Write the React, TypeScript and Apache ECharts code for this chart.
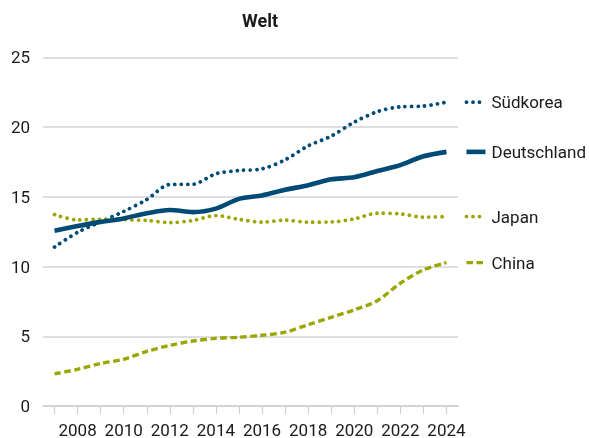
import React, { useEffect, useRef } from "react";
import * as echarts from "echarts";

const years = ["2007","2008","2009","2010","2011","2012","2013","2014","2015","2016","2017","2018","2019","2020","2021","2022","2023","2024"];
const suedkorea = [11.4,12.45,13.2,13.95,14.8,15.88,15.9,16.65,16.88,17.0,17.65,18.65,19.35,20.35,21.1,21.45,21.5,21.78];
const deutschland = [12.57,12.9,13.2,13.45,13.82,14.05,13.9,14.15,14.85,15.1,15.5,15.83,16.25,16.4,16.85,17.27,17.9,18.22];
const japan = [13.72,13.34,13.38,13.36,13.3,13.15,13.3,13.65,13.38,13.18,13.32,13.18,13.2,13.41,13.82,13.77,13.54,13.58];
const china = [2.3,2.63,3.05,3.35,3.92,4.35,4.66,4.85,4.93,5.07,5.29,5.83,6.36,6.89,7.55,8.8,9.76,10.28];
const yTicks = [0, 5, 10, 15, 20, 25];

const BLUE = "#004b76";
const GREEN = "#9ba600";
const FONT = "Roboto";

const seriesDefs = [
  { name: "Südkorea", data: suedkorea, color: BLUE, width: 3.8, type: [0.01, 6.5], cap: "round" },
  { name: "Deutschland", data: deutschland, color: BLUE, width: 4.6, type: "solid", cap: "butt" },
  { name: "Japan", data: japan, color: GREEN, width: 3.8, type: [0.01, 6.5], cap: "round" },
  { name: "China", data: china, color: GREEN, width: 3.4, type: [6.5, 3.5], cap: "butt" },
];

export default function App() {
  const ref = useRef<HTMLDivElement>(null);
  useEffect(() => {
    if (!ref.current) return;
    const chart = echarts.init(ref.current, undefined, { renderer: "svg" });
    const option: any = {
      animation: false,
      title: {
        text: "Welt",
        left: 237,
        top: 6,
        textStyle: { fontFamily: FONT, fontSize: 18, fontWeight: "bold", color: "#1a1a1a" },
      },
      grid: { left: 43, right: 131, top: 57.3, bottom: 32, containLabel: false },
      xAxis: {
        type: "category",
        data: years,
        boundaryGap: true,
        axisLine: { show: true, lineStyle: { color: "#d0d0d0", width: 1.5 } },
        axisTick: { show: true, alignWithLabel: true, interval: 0, length: 8, lineStyle: { color: "#d0d0d0", width: 1.2 } },
        axisLabel: {
          interval: (i: number) => i % 2 === 1,
          margin: 15,
          fontFamily: FONT,
          fontSize: 17,
          color: "#1a1a1a",
        },
        splitLine: { show: false },
      },
      yAxis: {
        type: "value",
        min: yTicks[0],
        max: yTicks[yTicks.length - 1],
        interval: 5,
        axisLine: { show: false },
        axisTick: { show: false },
        axisLabel: { margin: 13, fontFamily: FONT, fontSize: 17, color: "#1a1a1a" },
        splitLine: { lineStyle: { color: "#d3d3d3", width: 1.5 } },
      },
      series: seriesDefs.map((s) => ({
        name: s.name,
        type: "line",
        data: s.data,
        smooth: 0.3,
        showSymbol: false,
        symbol: "none",
        lineStyle: { color: s.color, width: s.width, type: s.type, cap: s.cap, join: "round" },
        z: s.name === "Deutschland" ? 3 : 2,
      })),
    };
    chart.setOption(option);

    const graphics: any[] = [];
    seriesDefs.forEach((s, i) => {
      const last = s.data.length - 1;
      const pt = chart.convertToPixel({ seriesIndex: i }, [last, s.data[last]]) as number[];
      if (!pt) return;
      const [x, y] = pt;
      graphics.push({
        type: "line",
        shape: { x1: x + 20, y1: y, x2: x + 39, y2: y },
        style: { stroke: s.color, lineWidth: s.width, lineDash: s.type === "solid" ? null : s.type, lineCap: s.cap },
        silent: true,
      });
      graphics.push({
        type: "text",
        x: x + 45,
        y: y,
        style: { text: s.name, fontFamily: FONT, fontSize: 17, fill: "#1a1a1a", textVerticalAlign: "middle", verticalAlign: "middle" },
        silent: true,
      });
    });
    chart.setOption({ graphic: graphics });

    return () => chart.dispose();
  }, []);
  return <div ref={ref} style={{ position: "fixed", left: 0, top: 0, width: 589, height: 438 }} />;
}
